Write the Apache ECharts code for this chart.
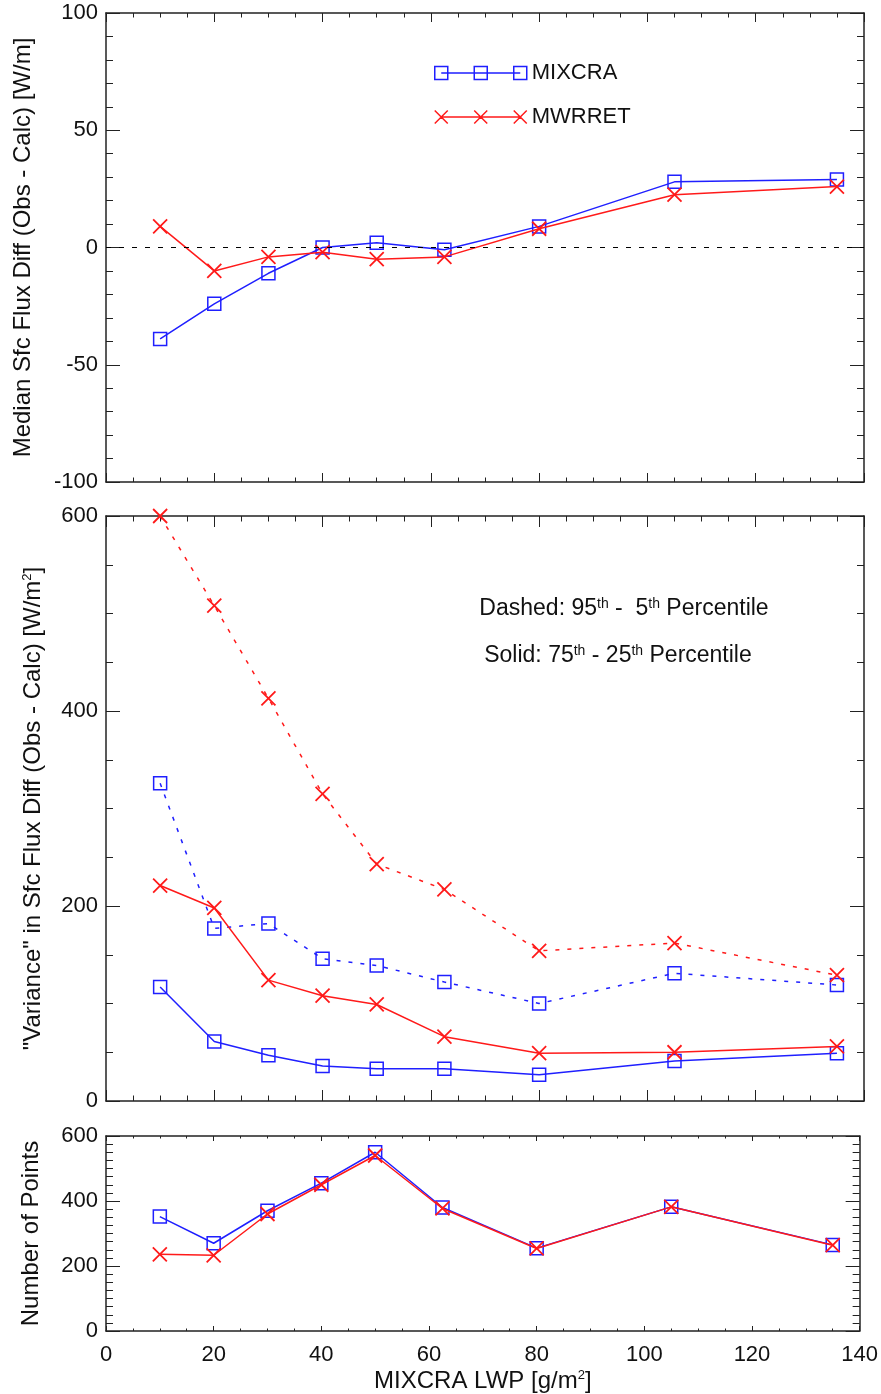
<!DOCTYPE html>
<html>
<head>
<meta charset="utf-8">
<script src="https://cdn.jsdelivr.net/npm/echarts@6.0.0/dist/echarts.min.js"></script>
<style>
  html, body { margin: 0; padding: 0; background: #fff; }
  #chart { width: 881px; height: 1394px; }
</style>
</head>
<body>
<div id="chart"></div>
<script>
// LWP bins (x)
const lwp = [10, 20, 30, 40, 50, 62.5, 80, 105, 135];
// top panel: median flux diff
const medMixcra = [-39, -24, -11, 0, 2, -1, 9, 28, 29];
const medMwrret = [9, -10, -4, -2, -5, -4, 8, 22.5, 26];
// middle panel: 75th-25th (solid) and 95th-5th (dashed)
const iqrMixcra = [117, 61, 47, 36, 33, 33, 27, 41, 49];
const p90Mixcra = [326, 177, 182, 146, 139, 122, 100, 131, 119];
const iqrMwrret = [221, 198, 124, 108, 99, 66, 49, 50, 56];
const p90Mwrret = [600, 508, 413, 315, 243, 217, 154, 162, 129];
// bottom panel: number of points
const nMixcra = [352, 270, 370, 455, 550, 380, 255, 382, 265];
const nMwrret = [236, 233, 360, 450, 540, 377, 254, 382, 264];

const BLUE = '#1f1fff';
const RED = '#ff1a1a';
const AX = '#222';
const FONT = '"Liberation Sans", Arial, Helvetica, sans-serif';

const chart = echarts.init(document.getElementById('chart'), null, { renderer: 'canvas' });

function pairs(vals) {
  return lwp.map((x, i) => [x, vals[i]]);
}

const grids = [
  { left: 106, right: 17, top: 13, height: 469 },
  { left: 106, right: 17, top: 516, height: 585 },
  { left: 106, right: 17, top: 1136, height: 197 }
];
const xTick = [9, 11, 5];

const xAxes = [];
const yAxes = [];
grids.forEach((g, i) => {
  ['bottom', 'top'].forEach(pos => {
    xAxes.push({
      type: 'value', gridIndex: i, position: pos,
      min: 0, max: 140, interval: 20,
      axisLine: { show: true, onZero: false, lineStyle: { color: AX, width: 1.5 } },
      axisTick: { show: true, inside: true, length: xTick[i], lineStyle: { color: AX, width: 1 } },
      minorTick: { show: true, splitNumber: 4, length: xTick[i] / 2, lineStyle: { color: AX, width: 1 } },
      splitLine: { show: false },
      axisLabel: {
        show: i === 2 && pos === 'bottom', margin: 13,
        color: '#111', fontSize: 22, fontFamily: FONT,
        showMinLabel: true, showMaxLabel: true
      },
      name: (i === 2 && pos === 'bottom') ? 'MIXCRA LWP [g/m{sup|2}]' : '',
      nameLocation: 'middle', nameGap: 38,
      nameTextStyle: {
        color: '#111', fontSize: 24, fontFamily: FONT,
        rich: { sup: { fontSize: 13, verticalAlign: 'top', color: '#111', fontFamily: FONT } }
      }
    });
  });
});

const yCfg = [
  { min: -100, max: 100, interval: 50, minorSplit: 5, name: 'Median Sfc Flux Diff (Obs - Calc) [W/m]', gap: 71 },
  { min: 0, max: 600, interval: 200, minorSplit: 4, name: '"Variance" in Sfc Flux Diff (Obs - Calc) [W/m{sup|2}]', gap: 61 },
  { min: 0, max: 600, interval: 200, minorSplit: 8, name: 'Number of Points', gap: 63 }
];
yCfg.forEach((c, i) => {
  ['left', 'right'].forEach(pos => {
    yAxes.push({
      type: 'value', gridIndex: i, position: pos,
      min: c.min, max: c.max, interval: c.interval,
      axisLine: { show: true, onZero: false, lineStyle: { color: AX, width: 1.5 } },
      axisTick: { show: true, inside: true, length: 14, lineStyle: { color: AX, width: 1 } },
      minorTick: { show: true, splitNumber: c.minorSplit, length: 7, lineStyle: { color: AX, width: 1 } },
      splitLine: { show: false },
      axisLabel: {
        show: pos === 'left', margin: 8,
        color: '#111', fontSize: 22, fontFamily: FONT,
        showMinLabel: true, showMaxLabel: true
      },
      name: pos === 'left' ? c.name : '',
      nameLocation: 'middle', nameGap: c.gap, nameRotate: 90,
      nameTextStyle: {
        color: '#111', fontSize: 24, fontFamily: FONT,
        rich: { sup: { fontSize: 13, verticalAlign: 'top', color: '#111', fontFamily: FONT } }
      }
    });
  });
});

const xPath = 'path://M0,0L10,10M10,0L0,10';

function mixSeries(grid, vals, dashed) {
  return {
    name: 'MIXCRA', type: 'line',
    xAxisIndex: grid * 2, yAxisIndex: grid * 2,
    data: pairs(vals),
    symbol: 'rect', symbolSize: 13,
    itemStyle: { color: 'rgba(0,0,0,0)', borderColor: BLUE, borderWidth: 1.5 },
    lineStyle: { color: BLUE, width: 1.5, type: dashed ? [4, 8] : 'solid' },
    emphasis: { disabled: true },
    animation: false, z: 3
  };
}
function mwrSeries(grid, vals, dashed) {
  return {
    name: 'MWRRET', type: 'line',
    xAxisIndex: grid * 2, yAxisIndex: grid * 2,
    data: pairs(vals),
    symbol: xPath, symbolSize: 14,
    itemStyle: { color: RED, borderColor: RED, borderWidth: 1.8 },
    lineStyle: { color: RED, width: 1.5, type: dashed ? [4, 8] : 'solid' },
    emphasis: { disabled: true },
    animation: false, z: 4
  };
}

const topMwr = mwrSeries(0, medMwrret, false);
topMwr.markLine = {
  silent: true, symbol: 'none', animation: false,
  label: { show: false },
  lineStyle: { color: '#000', width: 1.2, type: [5, 8] },
  data: [{ yAxis: 0 }]
};

const series = [
  mixSeries(0, medMixcra, false),
  topMwr,
  mixSeries(1, p90Mixcra, true),
  mwrSeries(1, p90Mwrret, true),
  mixSeries(1, iqrMixcra, false),
  mwrSeries(1, iqrMwrret, false),
  mixSeries(2, nMixcra, false),
  mwrSeries(2, nMwrret, false)
];

const legendIconSq = 'path://M0,0h13v13h-13ZM39.5,0h13v13h-13ZM79,0h13v13h-13ZM6.5,6.5L85.5,6.5';
const legendIconX = 'path://M0,0L13,13M13,0L0,13M39.5,0L52.5,13M52.5,0L39.5,13M79,0L92,13M92,0L79,13M6.5,6.5L85.5,6.5';

const sup = { fontSize: 14, verticalAlign: 'top', fontFamily: FONT, fill: '#111' };

chart.setOption({
  backgroundColor: '#fff',
  animation: false,
  grid: grids,
  xAxis: xAxes,
  yAxis: yAxes,
  legend: {
    orient: 'vertical', left: 434, top: 62, padding: 0,
    itemWidth: 92, itemHeight: 13, itemGap: 22,
    selectedMode: false,
    textStyle: { color: '#111', fontSize: 22, fontFamily: FONT },
    data: [
      { name: 'MIXCRA', icon: legendIconSq, itemStyle: { color: 'rgba(0,0,0,0)', borderColor: BLUE, borderWidth: 1.5 } },
      { name: 'MWRRET', icon: legendIconX, itemStyle: { color: 'rgba(0,0,0,0)', borderColor: RED, borderWidth: 1.5 } }
    ]
  },
  graphic: [
    {
      type: 'text', x: 624, y: 609, silent: true,
      style: {
        text: 'Dashed: 95{s|th} -  5{s|th} Percentile',
        fontSize: 23, fontFamily: FONT, fill: '#111',
        align: 'center', verticalAlign: 'middle',
        rich: { s: sup }
      }
    },
    {
      type: 'text', x: 618, y: 656, silent: true,
      style: {
        text: 'Solid: 75{s|th} - 25{s|th} Percentile',
        fontSize: 23, fontFamily: FONT, fill: '#111',
        align: 'center', verticalAlign: 'middle',
        rich: { s: sup }
      }
    }
  ],
  series: series
});
</script>
</body>
</html>
